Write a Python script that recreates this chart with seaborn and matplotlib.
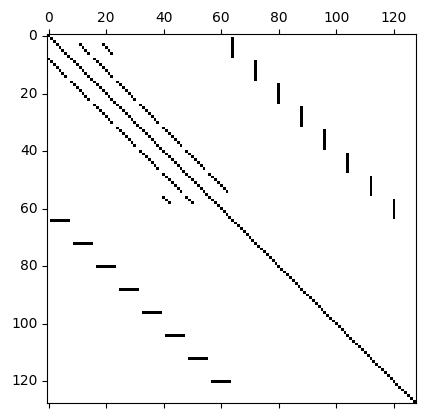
import numpy as np
import seaborn as sns
import matplotlib.pyplot as plt

# sparsity pattern of a 128 x 128 matrix
size = 128

# off-diagonal runs inside the top-left block: (first row, run length)
upper8_runs = [(3, 4), (8, 7), (16, 7), (24, 7), (32, 7), (40, 7), (48, 7)]
lower8_runs = [(8, 7), (16, 7), (24, 7), (32, 7), (40, 7), (48, 7), (56, 3)]
upper16_runs = [(3, 4)]
lower16_runs = [(56, 3)]

# coupling blocks: vertical bars (column, first row) and horizontal bars (row, first column)
vbar_cols = [64, 72, 80, 88, 96, 104, 112, 120]
vbar_rows = [1, 9, 17, 25, 33, 41, 49, 57]
hbar_rows = [64, 72, 80, 88, 96, 104, 112, 120]
hbar_cols = [1, 9, 17, 25, 33, 41, 49, 57]
bar_len = 7

tick_vals = [0, 20, 40, 60, 80, 100, 120]

M = np.zeros((size, size))
M[np.arange(size), np.arange(size)] = 1
for offset, runs in [(8, upper8_runs), (-8, lower8_runs),
                     (16, upper16_runs), (-16, lower16_runs)]:
    for r0, n in runs:
        r = np.arange(r0, r0 + n)
        M[r, r + offset] = 1
for c, r0 in zip(vbar_cols, vbar_rows):
    M[r0:r0 + bar_len, c] = 1
for r, c0 in zip(hbar_rows, hbar_cols):
    M[r, c0:c0 + bar_len] = 1

fig = plt.figure(figsize=(4.25, 4.18), dpi=100)
ax = fig.add_axes([0.1096, 0.0359, 0.8694, 0.8816])
sns.heatmap(M, cmap="binary", vmin=0, vmax=1, cbar=False, square=True, ax=ax)

for s in ax.spines.values():
    s.set_visible(True)
    s.set_linewidth(0.8)
    s.set_color("black")

pos = np.array(tick_vals) + 0.5
ax.set_xticks(pos)
ax.set_xticklabels([str(v) for v in tick_vals], rotation=0)
ax.set_yticks(pos)
ax.set_yticklabels([str(v) for v in tick_vals], rotation=0)
ax.xaxis.tick_top()
ax.xaxis.set_ticks_position("both")
ax.tick_params(axis="x", labeltop=True, labelbottom=False)
ax.tick_params(length=3.5, width=0.8, labelsize=10)

fig.savefig("out.png", dpi=100)
